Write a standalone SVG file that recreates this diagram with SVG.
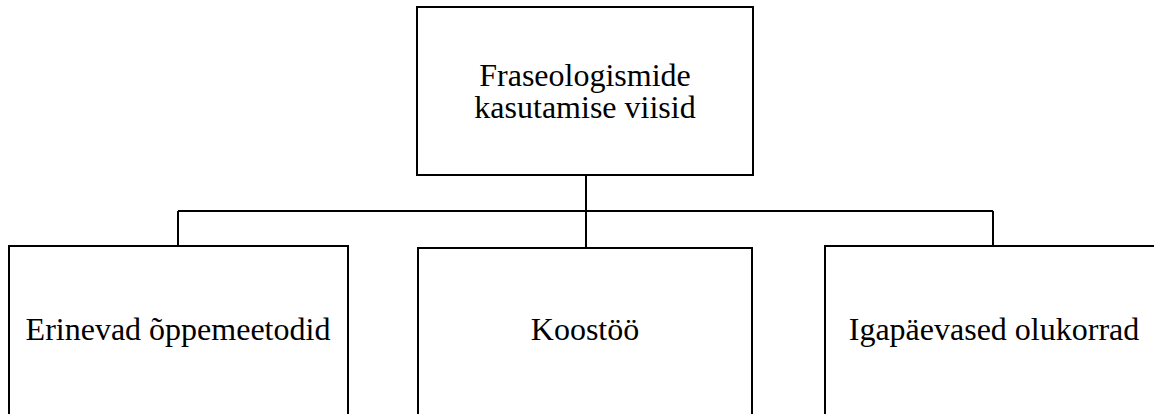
<svg xmlns="http://www.w3.org/2000/svg" width="1154" height="414" viewBox="0 0 1154 414">
<style>
.box{fill:#fff;stroke:#000;stroke-width:2}
.conn{fill:none;stroke:#000;stroke-width:2}
.t{font-family:'Liberation Serif','Times New Roman',Times,serif;font-size:32px;fill:#000;text-anchor:middle}
</style>
<rect width="1154" height="414" fill="#fff"/>
<g id="connectors">
<line class="conn" x1="586" y1="175" x2="586" y2="248"/>
<line class="conn" x1="178" y1="211" x2="993" y2="211"/>
<line class="conn" x1="178" y1="211" x2="178" y2="246"/>
<line class="conn" x1="993" y1="211" x2="993" y2="246"/>
</g>
<g id="root">
<rect class="box" x="417" y="7" width="336" height="168"/>
<text class="t" x="585" y="86">Fraseologismide</text>
<text class="t" x="585" y="118">kasutamise viisid</text>
</g>
<g id="n1">
<rect class="box" x="9" y="246" width="339" height="190"/>
<text class="t" x="178" y="340">Erinevad õppemeetodid</text>
</g>
<g id="n2">
<rect class="box" x="418" y="248" width="334" height="190"/>
<text class="t" x="585" y="340">Koostöö</text>
</g>
<g id="n3">
<rect class="box" x="825" y="246" width="345" height="190"/>
<text class="t" x="994" y="340">Igapäevased olukorrad</text>
</g>
</svg>
